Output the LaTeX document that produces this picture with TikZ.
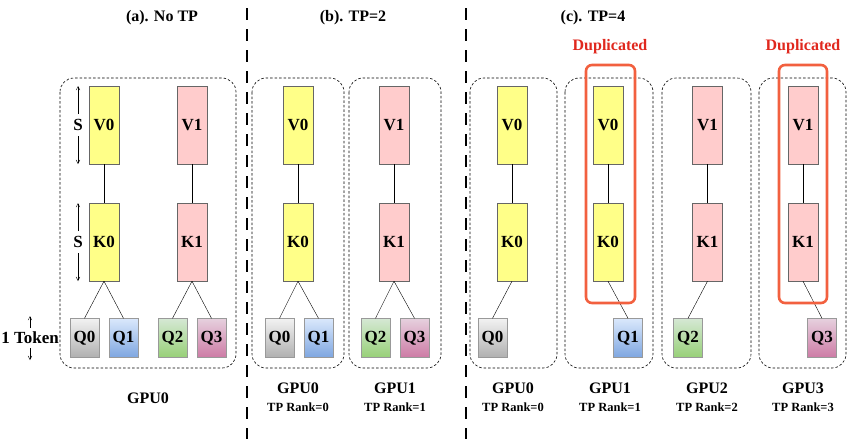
\documentclass[tikz,border=0pt]{standalone}
\usepackage{fontspec}
\setmainfont{Liberation Serif}
\usetikzlibrary{positioning,arrows.meta,calc}
\tikzset{>={Straight Barb[width=1.3mm,length=1.3mm]}}
\definecolor{kvyellow}{HTML}{FFFF88}
\definecolor{kvpink}{HTML}{FFCCCC}
\definecolor{dupred}{HTML}{F2603F}
\definecolor{duptext}{HTML}{E0281E}
\definecolor{qgrt}{HTML}{F2F2F2}\definecolor{qgrb}{HTML}{B0B0B0}
\definecolor{qblt}{HTML}{DAE8FC}\definecolor{qblb}{HTML}{7EA6E0}
\definecolor{qgnt}{HTML}{D5E8D4}\definecolor{qgnb}{HTML}{97D077}
\definecolor{qpkt}{HTML}{E6D0DE}\definecolor{qpkb}{HTML}{CD7BA5}

\begin{document}
\begin{tikzpicture}[x=1pt,y=-1pt,font=\bfseries\fontsize{17}{19}\selectfont]
        \tikzstyle{kv} = [draw=black!60, minimum width=30pt, minimum height=78pt, inner sep=0pt]
        \tikzstyle{qn} = [draw=black!40, minimum width=29pt, minimum height=39pt, inner sep=0pt]
        \tikzstyle{gbox} = [draw=black, dash pattern=on 2.5pt off 2pt, rounded corners=14pt, line width=0.6pt]
        \tikzstyle{dup} = [draw=dupred, line width=2.6pt, rounded corners=6pt]
        \tikzstyle{lbl} = [font=\bfseries\fontsize{16}{18}\selectfont]
        \tikzstyle{rk} = [font=\bfseries\fontsize{12.5}{14}\selectfont]
        \tikzstyle{q0} = [qn, top color=qgrt, bottom color=qgrb]
        \tikzstyle{q1} = [qn, top color=qblt, bottom color=qblb]
        \tikzstyle{q2} = [qn, top color=qgnt, bottom color=qgnb]
        \tikzstyle{q3} = [qn, top color=qpkt, bottom color=qpkb]
        \useasboundingbox (0,0) rectangle (847,439);

        % titles and separators
        \node[lbl] (ta) at (162,18) {(a). No TP};
        \node[lbl] (tb) at (353,18) {(b). TP=2};
        \node[lbl] (tc) at (593,18) {(c). TP=4};
        \draw[line width=1.6pt, dash pattern=on 12pt off 9pt] (247,8) -- (247,439);
        \draw[line width=1.6pt, dash pattern=on 12pt off 9pt] (466,8) -- (466,439);

        % (a) no TP
        \draw[gbox] (60,78) rectangle (236,368);
        \node[kv, fill=kvyellow] (aV0) at (104,125) {V0};
        \node[kv, fill=kvyellow] (aK0) at (104,242) {K0};
        \node[kv, fill=kvpink] (aV1) at (192,125) {V1};
        \node[kv, fill=kvpink] (aK1) at (192,242) {K1};
        \node[q0] (aQ0) at (84.5,338) {Q0};
        \node[q1] (aQ1) at (123.5,338) {Q1};
        \node[q2] (aQ2) at (172.5,338) {Q2};
        \node[q3] (aQ3) at (211.5,338) {Q3};
        \draw (aV0) -- (aK0);
        \draw (aV1) -- (aK1);
        \draw (aK0.south) -- (aQ0.north);
        \draw (aK0.south) -- (aQ1.north);
        \draw (aK1.south) -- (aQ2.north);
        \draw (aK1.south) -- (aQ3.north);
        % S and token arrows
        \node[inner sep=0pt] (s1) at (78,125) {S};
        \node[inner sep=0pt] (s2) at (78,242) {S};
        \coordinate (s1t) at (78,86);  \coordinate (s1a) at (78,114);
        \coordinate (s1b) at (78,164); \coordinate (s1c) at (78,136);
        \coordinate (s2t) at (78,203); \coordinate (s2a) at (78,231);
        \coordinate (s2b) at (78,281); \coordinate (s2c) at (78,253);
        \draw[->] (s1a) -- (s1t);
        \draw[->] (s1c) -- (s1b);
        \draw[->] (s2a) -- (s2t);
        \draw[->] (s2c) -- (s2b);
        \node[inner sep=0pt] (tok) at (30,338) {1 Token};
        \coordinate (tkt) at (30,316); \coordinate (tka) at (30,328);
        \coordinate (tkb) at (30,360); \coordinate (tkc) at (30,348);
        \draw[->] (tka) -- (tkt);
        \draw[->] (tkc) -- (tkb);
        \node[lbl] (ag0) at (148,398) {GPU0};

        % (b) TP=2
        \draw[gbox] (252,78) rectangle (344,368);
        \draw[gbox] (349,78) rectangle (441,368);
        \node[kv, fill=kvyellow] (bV0) at (298,125) {V0};
        \node[kv, fill=kvyellow] (bK0) at (298,242) {K0};
        \node[kv, fill=kvpink] (bV1) at (394,125) {V1};
        \node[kv, fill=kvpink] (bK1) at (394,242) {K1};
        \node[q0] (bQ0) at (279.5,338) {Q0};
        \node[q1] (bQ1) at (318.5,338) {Q1};
        \node[q2] (bQ2) at (375.5,338) {Q2};
        \node[q3] (bQ3) at (414.5,338) {Q3};
        \draw (bV0) -- (bK0);
        \draw (bV1) -- (bK1);
        \draw (bK0.south) -- (bQ0.north);
        \draw (bK0.south) -- (bQ1.north);
        \draw (bK1.south) -- (bQ2.north);
        \draw (bK1.south) -- (bQ3.north);
        \node[lbl] (bg0) at (298,388) {GPU0};
        \node[rk] (br0) at (298,407) {TP Rank=0};
        \node[lbl] (bg1) at (395,388) {GPU1};
        \node[rk] (br1) at (395,407) {TP Rank=1};

        % (c) TP=4
        \draw[gbox] (470,78) rectangle (557,368);
        \draw[gbox] (565,78) rectangle (653,368);
        \draw[gbox] (662,78) rectangle (751,368);
        \draw[gbox] (759,78) rectangle (846,368);
        \node[kv, fill=kvyellow] (cV0) at (512,125) {V0};
        \node[kv, fill=kvyellow] (cK0) at (512,242) {K0};
        \node[kv, fill=kvyellow] (dV0) at (608,125) {V0};
        \node[kv, fill=kvyellow] (dK0) at (608,242) {K0};
        \node[kv, fill=kvpink] (eV1) at (707.5,125) {V1};
        \node[kv, fill=kvpink] (eK1) at (707.5,242) {K1};
        \node[kv, fill=kvpink] (fV1) at (803,125) {V1};
        \node[kv, fill=kvpink] (fK1) at (803,242) {K1};
        \node[q0] (cQ0) at (492.5,338) {Q0};
        \node[q1] (dQ1) at (628,338) {Q1};
        \node[q2] (eQ2) at (688,338) {Q2};
        \node[q3] (fQ3) at (822,338) {Q3};
        \draw (cV0) -- (cK0);
        \draw (dV0) -- (dK0);
        \draw (eV1) -- (eK1);
        \draw (fV1) -- (fK1);
        \draw (cK0.south) -- (cQ0.north);
        \draw (dK0.south) -- (dQ1.north);
        \draw (eK1.south) -- (eQ2.north);
        \draw (fK1.south) -- (fQ3.north);
        \draw[dup] (586,65) rectangle (635,303);
        \draw[dup] (779,65) rectangle (827,303);
        \node[lbl, text=duptext] (dup1) at (610,47) {Duplicated};
        \node[lbl, text=duptext] (dup2) at (803,47) {Duplicated};
        \node[lbl] (cg0) at (513,388) {GPU0};
        \node[rk] (cr0) at (513,407) {TP Rank=0};
        \node[lbl] (cg1) at (610,388) {GPU1};
        \node[rk] (cr1) at (610,407) {TP Rank=1};
        \node[lbl] (cg2) at (707,388) {GPU2};
        \node[rk] (cr2) at (707,407) {TP Rank=2};
        \node[lbl] (cg3) at (803,388) {GPU3};
        \node[rk] (cr3) at (803,407) {TP Rank=3};
\end{tikzpicture}
\end{document}
